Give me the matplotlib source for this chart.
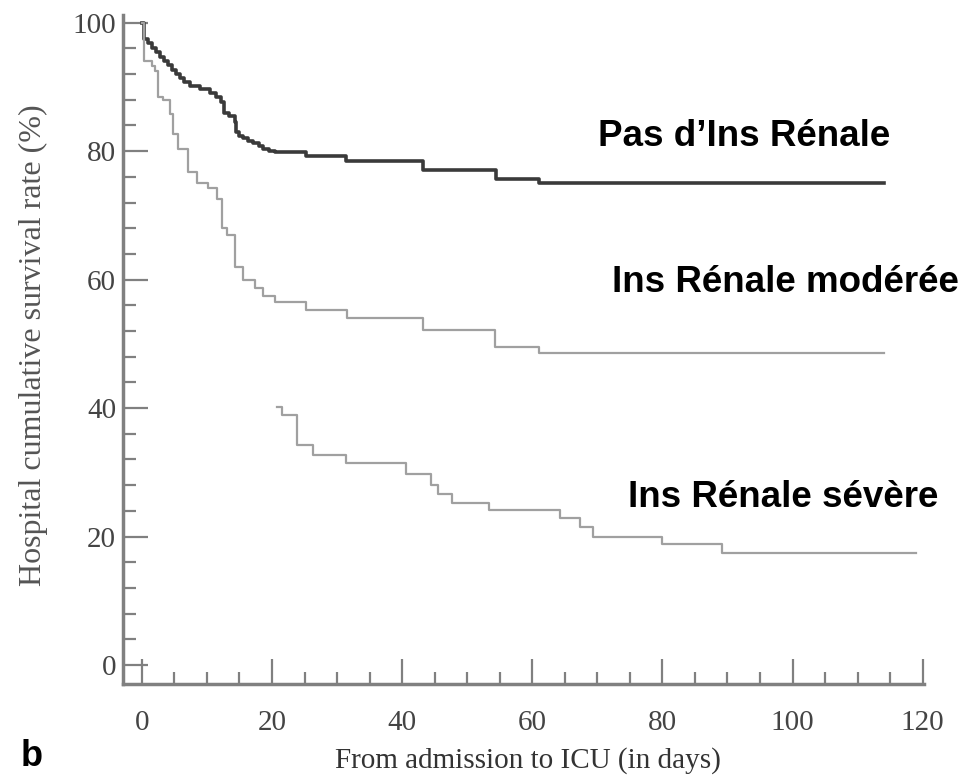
import matplotlib
matplotlib.use("Agg")
import matplotlib.pyplot as plt
from matplotlib.ticker import MultipleLocator

# Kaplan-Meier curves (days, survival %)
t_none = [0, 0.3, 1.0, 1.6, 2.2, 2.8, 3.4, 4.0, 4.6, 5.2, 5.8, 6.5, 7.4, 8.9, 10.4,
          11.4, 12.2, 12.7, 13.4, 14.3, 14.5, 15.0, 15.5, 16.3, 17.1, 18.0, 18.6,
          19.5, 20.4, 25.3, 31.4, 43.2, 54.5, 61.1, 114]
s_none = [100, 97.5, 96.8, 96.0, 95.4, 94.7, 94.0, 93.4, 92.6, 92.0, 91.4, 90.8, 90.2,
          89.7, 89.0, 88.4, 87.6, 86.0, 85.4, 84.6, 83.0, 82.4, 82.0, 81.6, 81.2, 80.8,
          80.4, 80.0, 79.8, 79.3, 78.5, 77.1, 75.7, 75.1, 75.1]

t_mod = [0, 0.3, 1.5, 2.0, 2.5, 3.2, 4.3, 4.8, 5.5, 7.1, 8.4, 10.1, 11.5, 12.3, 13.1,
         14.3, 15.5, 17.4, 18.6, 20.4, 25.3, 31.5, 43.2, 54.2, 61.1, 114]
s_mod = [100, 94.1, 93.3, 92.5, 88.4, 87.9, 85.8, 82.7, 80.4, 76.7, 75.1, 74.3, 72.6,
         68.1, 66.9, 61.9, 59.9, 58.7, 57.5, 56.5, 55.2, 54.1, 52.1, 49.5, 48.5, 48.5]

t_sev = [20.7, 21.5, 23.8, 26.3, 31.4, 40.6, 44.5, 45.5, 47.6, 53.4, 64.2, 67.3,
         69.3, 80.0, 89.2, 119]
s_sev = [40.1, 38.9, 34.2, 32.7, 31.4, 29.7, 28.1, 26.7, 25.2, 24.1, 22.9, 21.5,
         20.0, 18.9, 17.4, 17.4]

fig = plt.figure(figsize=(9.63, 7.78), dpi=100)
ax = fig.add_axes([0.1277, 0.1208, 0.8318, 0.86])

ax.step(t_none, s_none, where="post", color="#3a3a3a", lw=2.6)
ax.step(t_mod, s_mod, where="post", color="#a0a0a0", lw=1.6)
ax.step(t_sev, s_sev, where="post", color="#a0a0a0", lw=1.6)

ax.set_xlim(-2.9, 120.2)
ax.set_ylim(-2.95, 101.2)
for s in ["top", "right"]:
    ax.spines[s].set_visible(False)
for s in ["left", "bottom"]:
    ax.spines[s].set_color("#808080")
    ax.spines[s].set_linewidth(2.5)

ax.xaxis.set_major_locator(MultipleLocator(20))
ax.xaxis.set_minor_locator(MultipleLocator(5))
ax.yaxis.set_major_locator(MultipleLocator(20))
ax.yaxis.set_minor_locator(MultipleLocator(4))
ax.tick_params(which="major", direction="in", length=18, width=1.6, color="#808080",
               labelsize=21, labelcolor="#444444")
ax.tick_params(which="minor", direction="in", length=9, width=1.6, color="#808080")
ax.tick_params(axis="x", pad=19)
ax.tick_params(axis="y", pad=5)
for lab in ax.get_xticklabels() + ax.get_yticklabels():
    lab.set_family("Liberation Serif")

# axis titles placed in figure coordinates
fig.text(528 / 963, 1 - 761 / 778, "From admission to ICU (in days)",
         family="Liberation Serif", fontsize=21, color="#333333",
         ha="center", va="center")
fig.text(33 / 963, 1 - 345 / 778, "Hospital cumulative survival rate (%)",
         family="Liberation Serif", fontsize=23, color="#555555",
         rotation=90, ha="center", va="center")

lbl = dict(family="Liberation Sans", fontsize=26.5, fontweight="bold", color="black",
           ha="left", va="center")
fig.text(598 / 963, 1 - 137 / 778, "Pas d\u2019Ins Rénale", **lbl)
fig.text(612 / 963, 1 - 283 / 778, "Ins Rénale modérée", **lbl)
fig.text(628 / 963, 1 - 497 / 778, "Ins Rénale sévère", **lbl)
fig.text(32 / 963, 1 - 757 / 778, "b", family="Liberation Sans", fontsize=26,
         fontweight="bold", ha="center", va="center")

fig.savefig("out.png", dpi=100)
